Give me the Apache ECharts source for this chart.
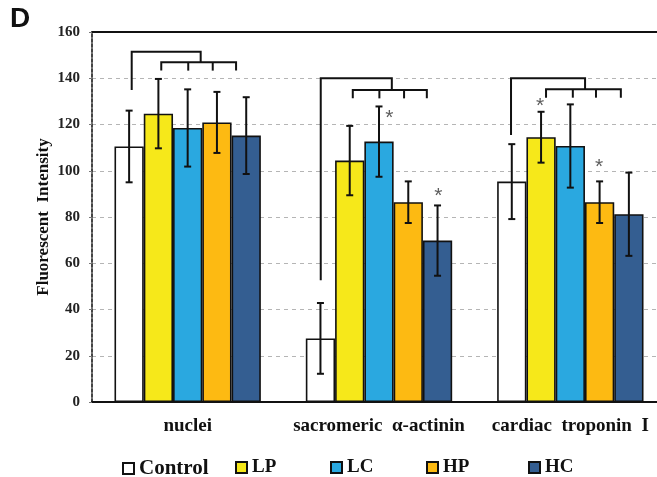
<!DOCTYPE html>
<html>
<head>
<meta charset="utf-8">
<script src="https://cdn.jsdelivr.net/npm/echarts@6/dist/echarts.min.js"></script>
<style>html,body{margin:0;padding:0;background:#fff}#c{width:657px;height:477px}</style>
</head>
<body>
<div id="c"></div>
<script>
var categories = ['nuclei', 'sacromeric  \u03b1-actinin', 'cardiac  troponin  I'];
var seriesNames = ['Control', 'LP', 'LC', 'HP', 'HC'];
var control = [110.5, 27.5, 95.3];
var controlErr = [15.5, 15.3, 16.2];
var lp = [124.7, 104.4, 114.5];
var lpErr = [15, 15, 11];
var lc = [118.5, 112.6, 110.7];
var lcErr = [16.7, 15.2, 18];
var hp = [120.9, 86.4, 86.4];
var hpErr = [13.2, 9, 9];
var hc = [115.2, 69.8, 81.2];
var hcErr = [16.6, 15.2, 18];
var yTicks = [0, 20, 40, 60, 80, 100, 120, 140, 160];

// significance brackets, in [category units, value]
var brackets = [
  [[0.2075, 134.9], [0.2075, 151.5], [0.568, 151.5], [0.568, 146.9]],
  [[0.362, 143.3], [0.362, 146.9], [0.753, 146.9], [0.753, 143.3]],
  [[0.503, 146.9], [0.503, 143.3]],
  [[0.631, 146.9], [0.631, 143.3]],
  [[1.1955, 52.7], [1.1955, 140], [1.567, 140], [1.567, 134.9]],
  [[1.363, 131.3], [1.363, 134.9], [1.750, 134.9], [1.750, 131.3]],
  [[1.502, 134.9], [1.502, 131.3]],
  [[1.631, 134.9], [1.631, 131.3]],
  [[2.190, 115.5], [2.190, 140], [2.577, 140], [2.577, 135.2]],
  [[2.373, 131.6], [2.373, 135.2], [2.764, 135.2], [2.764, 131.6]],
  [[2.513, 135.2], [2.513, 131.6]],
  [[2.634, 135.2], [2.634, 131.6]]
];
var asterisks = [[1.554, 124.8], [1.810, 91.2], [2.342, 129.9], [2.650, 103.6]];

var values = [control, lp, lc, hp, hc];
var errors = [controlErr, lpErr, lcErr, hpErr, hcErr];
var colors = ['#ffffff', '#f6e81a', '#2aa8e0', '#fdba12', '#345e91'];
var GAP = 0.235;
var serif = 'Liberation Serif';

var series = [];
seriesNames.forEach(function (name, s) {
  series.push({
    name: name, type: 'bar', xAxisIndex: 0, yAxisIndex: 0,
    data: values[s], barGap: '0%', barCategoryGap: (GAP * 100) + '%',
    itemStyle: { color: colors[s], borderColor: '#111', borderWidth: 1.6 },
    emphasis: { disabled: true }, silent: true
  });
});
seriesNames.forEach(function (name, s) {
  series.push({
    type: 'custom', xAxisIndex: 0, yAxisIndex: 0, z: 5, silent: true,
    data: values[s].map(function (v, i) { return [i, v, errors[s][i]]; }),
    renderItem: function (params, api) {
      var i = api.value(0), v = api.value(1), e = api.value(2);
      var band = api.size([1, 0])[0];
      var bw = band * (1 - GAP) / 5;
      var c = api.coord([i, v]);
      var x = c[0] + (s - 2) * bw;
      var yt = api.coord([i, v + e])[1];
      var yb = api.coord([i, v - e])[1];
      var cap = 3.5;
      var st = { stroke: '#111', lineWidth: 2 };
      return { type: 'group', children: [
        { type: 'line', shape: { x1: x, y1: yt, x2: x, y2: yb }, style: st },
        { type: 'line', shape: { x1: x - cap, y1: yt, x2: x + cap, y2: yt }, style: st },
        { type: 'line', shape: { x1: x - cap, y1: yb, x2: x + cap, y2: yb }, style: st }
      ]};
    }
  });
});
brackets.forEach(function (b) {
  series.push({
    type: 'line', xAxisIndex: 1, yAxisIndex: 0, data: b, symbol: 'none', silent: true, z: 6,
    lineStyle: { color: '#111', width: 2, join: 'miter' }, animation: false
  });
});
series.push({
  type: 'scatter', xAxisIndex: 1, yAxisIndex: 0, data: asterisks, symbolSize: 0, silent: true, z: 7,
  label: { show: true, formatter: '*', position: 'inside', offset: [0, 5],
    fontFamily: 'Liberation Sans', fontSize: 21, color: '#333' }
});

var legends = [
  { name: 'Control', left: 122, size: 21 },
  { name: 'LP', left: 235, size: 19 },
  { name: 'LC', left: 330, size: 19 },
  { name: 'HP', left: 426, size: 19 },
  { name: 'HC', left: 528, size: 19 }
].map(function (l) {
  return {
    data: [l.name], left: l.left, top: 458, padding: 0, icon: 'rect',
    itemWidth: 11, itemHeight: 11, selectedMode: false,
    textStyle: { fontFamily: serif, fontWeight: 'bold', fontSize: l.size, color: '#111' }
  };
});

var chart = echarts.init(document.getElementById('c'), null, { renderer: 'canvas' });
chart.setOption({
  animation: false,
  backgroundColor: '#fff',
  title: { text: 'D', left: 10, top: 5, padding: 0,
    textStyle: { fontFamily: 'Liberation Sans', fontWeight: 'bold', fontSize: 28, color: '#111' } },
  legend: legends,
  grid: { left: 92, width: 574, top: 32, bottom: 75, containLabel: false, outerBoundsMode: 'none' },
  xAxis: [
    { type: 'category', data: categories, position: 'bottom',
      axisLine: { lineStyle: { color: '#111', width: 2 } },
      axisTick: { show: false },
      axisLabel: { interval: 0, hideOverlap: false, margin: 15, fontFamily: serif, fontWeight: 'bold', fontSize: 19, color: '#111' } },
    { type: 'value', min: 0, max: 3, position: 'top',
      axisLine: { show: true, onZero: false, lineStyle: { color: '#111', width: 2 } },
      axisTick: { show: false }, axisLabel: { show: false }, splitLine: { show: false } }
  ],
  yAxis: {
    type: 'value', min: yTicks[0], max: yTicks[yTicks.length - 1], interval: 20,
    name: 'Fluorescent  Intensity', nameLocation: 'middle', nameGap: 40, nameRotate: 90,
    nameMoveOverlap: false,
    nameTextStyle: { fontFamily: serif, fontWeight: 'bold', fontSize: 17, color: '#111' },
    axisLine: { show: true, lineStyle: { color: '#444', width: 2, type: [3, 2] } },
    axisTick: { show: true, length: 3, lineStyle: { color: '#777' } },
    axisLabel: { margin: 12, fontFamily: serif, fontWeight: 'bold', fontSize: 15, color: '#222' },
    splitLine: { show: true, lineStyle: { color: '#b5b5b5', type: [4, 4], width: 1 } }
  },
  series: series
});
</script>
</body>
</html>
